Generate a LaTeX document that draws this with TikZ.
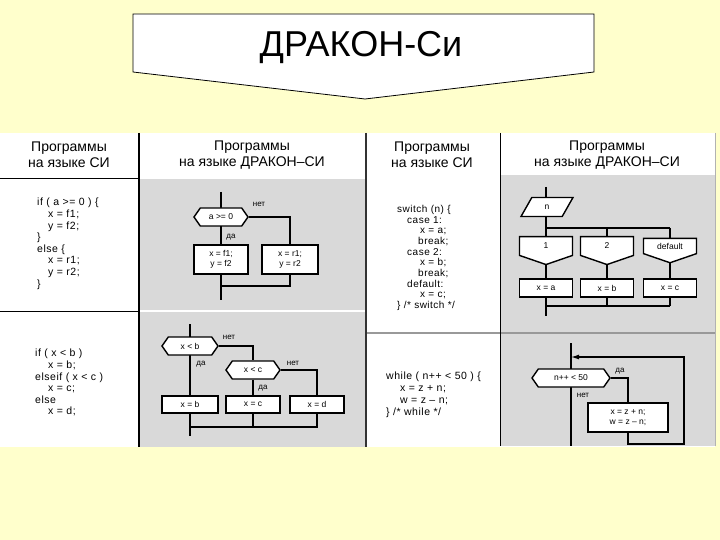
\documentclass[tikz,border=0pt]{standalone}
\usepackage{fontspec}
\setmainfont{Liberation Sans}
\newfontfamily\codefam[LetterSpace=5]{Liberation Sans}
\usetikzlibrary{shapes.symbols,shapes.geometric,arrows.meta,positioning}
\definecolor{slidebg}{HTML}{FFFFCC}
\definecolor{cellgray}{HTML}{D9D9D9}

\begin{document}
\begin{tikzpicture}[
  x=1pt,y=-1pt,
  hexa/.style={signal,signal to=west and east,signal pointer angle=110,draw,fill=white,line width=1.4pt,inner sep=1pt,minimum height=18pt,font=\fontsize{8.5}{9.5}\selectfont},
  act/.style={rectangle,draw,fill=white,line width=1.4pt,inner sep=1pt,align=center,font=\fontsize{8.5}{10}\selectfont},
  casebox/.style={signal,signal to=south,signal pointer angle=142,draw,fill=white,line width=1.4pt,inner sep=1pt,minimum width=53pt,minimum height=20pt,font=\fontsize{8.5}{9.5}\selectfont},
  inbox/.style={trapezium,trapezium left angle=70,trapezium right angle=110,trapezium stretches=true,draw,fill=white,line width=1.4pt,inner sep=1pt,minimum width=52pt,minimum height=19pt,font=\fontsize{8.5}{9.5}\selectfont},
  lbl/.style={inner sep=0pt,font=\fontsize{8}{9}\selectfont},
  code/.style={anchor=north west,align=left,inner sep=0pt},
  head/.style={align=center,inner sep=0pt,font=\fontsize{14}{16}\selectfont},
  wire/.style={line width=1.2pt}
]
  \fill[slidebg] (0,0) rectangle (720,540);
  \useasboundingbox (0,0) rectangle (720,540);

  \draw[fill=white,line width=0.8pt] (133,14) -- (594,14) -- (594,72) -- (365,99) -- (133,72) -- cycle;
  \node (title) at (361,48) {\fontsize{36}{40}\selectfont ДРАКОН-Си};

  \fill[white] (0,133) rectangle (715,447);
  \fill[cellgray] (140,179) rectangle (365,447);
  \fill[cellgray] (501,175) rectangle (715,446);
  \draw[white,line width=1.5pt] (140,311) -- (365,311);
  \draw[line width=1pt] (0,179) -- (138,179);
  \draw[line width=1pt] (0,311) -- (138,311);
  \draw[gray!80,line width=1.5pt] (367,333) -- (715,333);
  \draw[line width=1.2pt] (139,133) -- (139,447);
  \draw[black!80,line width=2pt] (366,133) -- (366,447);
  \draw[line width=1pt] (500,133) -- (500,446);
  \draw[gray!60,line width=1pt] (715,133) -- (715,446);

  \node[head] (h1) at (69,155) {Программы\\на языке СИ};
  \node[head] (h2) at (252,155) {Программы\\на языке ДРАКОН–СИ};
  \node[head] (h3) at (432,155) {Программы\\на языке СИ};
  \node[head] (h4) at (607,155) {Программы\\на языке ДРАКОН–СИ};

  \node[code,font=\codefam\fontsize{10.5}{11.6}\selectfont] (src1) at (37,198)
    {if ( a >= 0 ) \{\\\hspace*{11pt}x = f1;\\\hspace*{11pt}y = f2;\\\}\\else \{\\\hspace*{11pt}x = r1;\\\hspace*{11pt}y = r2;\\\}};
  \node[code,font=\codefam\fontsize{10.5}{11.6}\selectfont] (src2) at (35,349)
    {if ( x < b )\\\hspace*{13pt}x = b;\\elseif ( x < c )\\\hspace*{13pt}x = c;\\else\\\hspace*{13pt}x = d;};
  \node[code,font=\codefam\fontsize{10}{10.67}\selectfont] (src3) at (397,205)
    {switch (n) \{\\\hspace*{10pt}case 1:\\\hspace*{23pt}x = a;\\\hspace*{21pt}break;\\\hspace*{10pt}case 2:\\\hspace*{23pt}x = b;\\\hspace*{21pt}break;\\\hspace*{10pt}default:\\\hspace*{23pt}x = c;\\\} /* switch */};
  \node[code,font=\codefam\fontsize{10.5}{12}\selectfont] (src4) at (386,372)
    {while ( n++ < 50 ) \{\\\hspace*{14pt}x = z + n;\\\hspace*{14pt}w = z – n;\\\} /*  while  */};

  \coordinate (a0) at (221,192);
  \coordinate (a9) at (221,300);
  \coordinate (am) at (221,286);
  \draw[wire] (a0) -- (a9);
  \node[hexa,minimum width=54pt] (aq) at (221,217) {a >= 0};
  \node[act,minimum width=54pt,minimum height=29pt] (ay) at (221,259.5) {x = f1;\\y = f2};
  \node[act,minimum width=56pt,minimum height=29pt] (an) at (290,259.5) {x = r1;\\y = r2};
  \node[lbl] (aqn) at (259,204) {нет};
  \node[lbl] (aqy) at (231,237) {да};
  \draw[wire] (aq.east) -| (an.north);
  \draw[wire] (an.south) |- (am);

  \coordinate (b0) at (190,324);
  \coordinate (b9) at (190,436);
  \coordinate (bm) at (190,427);
  \draw[wire] (b0) -- (b9);
  \node[hexa,minimum width=56pt] (bq1) at (190,346) {x < b};
  \node[hexa,minimum width=54pt] (bq2) at (253,370) {x < c};
  \node[act,minimum width=56pt,minimum height=17pt] (bb) at (190,404.5) {x = b};
  \node[act,minimum width=54pt,minimum height=17pt] (bc) at (253,404.5) {x = c};
  \node[act,minimum width=54pt,minimum height=17pt] (bd) at (317,404.5) {x = d};
  \node[lbl] (bq1n) at (229,337) {нет};
  \node[lbl] (bq1y) at (201,364) {да};
  \node[lbl] (bq2n) at (293,363) {нет};
  \node[lbl] (bq2y) at (263,388) {да};
  \draw[wire] (bq1.east) -| (bq2.north);
  \draw[wire] (bq2.south) -- (bc.north);
  \draw[wire] (bq2.east) -| (bd.north);
  \draw[wire] (bc.south) -- (bc.south |- bm);
  \draw[wire] (bd.south) |- (bm);

  \coordinate (c0) at (546,187);
  \coordinate (c9) at (546,316);
  \coordinate (cs1) at (546,228);
  \coordinate (cs3) at (670,228);
  \coordinate (cm1) at (546,306);
  \coordinate (cm3) at (670,306);
  \draw[wire] (c0) -- (c9);
  \draw[wire] (cs1) -- (cs3);
  \draw[wire] (cm1) -- (cm3);
  \node[inbox] (cn) at (547,207) {n};
  \node[casebox] (ca1) at (546,246) {1};
  \node[casebox] (ca2) at (607,246) {2};
  \node[casebox] (ca3) at (670,246) {default};
  \node[act,minimum width=53pt,minimum height=18pt] (cx1) at (546,288) {x = a};
  \node[act,minimum width=53pt,minimum height=18pt] (cx2) at (607,288) {x = b};
  \node[act,minimum width=53pt,minimum height=18pt] (cx3) at (670,288) {x = c};
  \draw[wire] (ca2.north |- cs1) -- (ca2.north);
  \draw[wire] (ca3.north |- cs3) -- (ca3.north);
  \draw[wire] (ca2.south) -- (cx2.north);
  \draw[wire] (ca3.south) -- (cx3.north);
  \draw[wire] (cx2.south) -- (cx2.south |- cm1);
  \draw[wire] (cx3.south) -- (cx3.south |- cm3);

  \coordinate (d0) at (571,343);
  \coordinate (d9) at (571,446);
  \coordinate (dj) at (571,357);
  \coordinate (dl1) at (684,444);
  \coordinate (dl2) at (684,357);
  \draw[wire] (d0) -- (d9);
  \node[hexa,minimum width=78pt] (dq) at (571,378) {n++ < 50};
  \node[act,minimum width=80pt,minimum height=29pt] (dw) at (628,417.5) {x = z + n;\\w = z – n;};
  \node[lbl] (dqy) at (620,371) {да};
  \node[lbl] (dqn) at (583,395) {нет};
  \draw[wire] (dq.east) -| (dw.north);
  \draw[wire,-{Latex[length=8pt,width=5pt]}] (dw.south) |- (dl1) -- (dl2) -- (dj);
\end{tikzpicture}
\end{document}
